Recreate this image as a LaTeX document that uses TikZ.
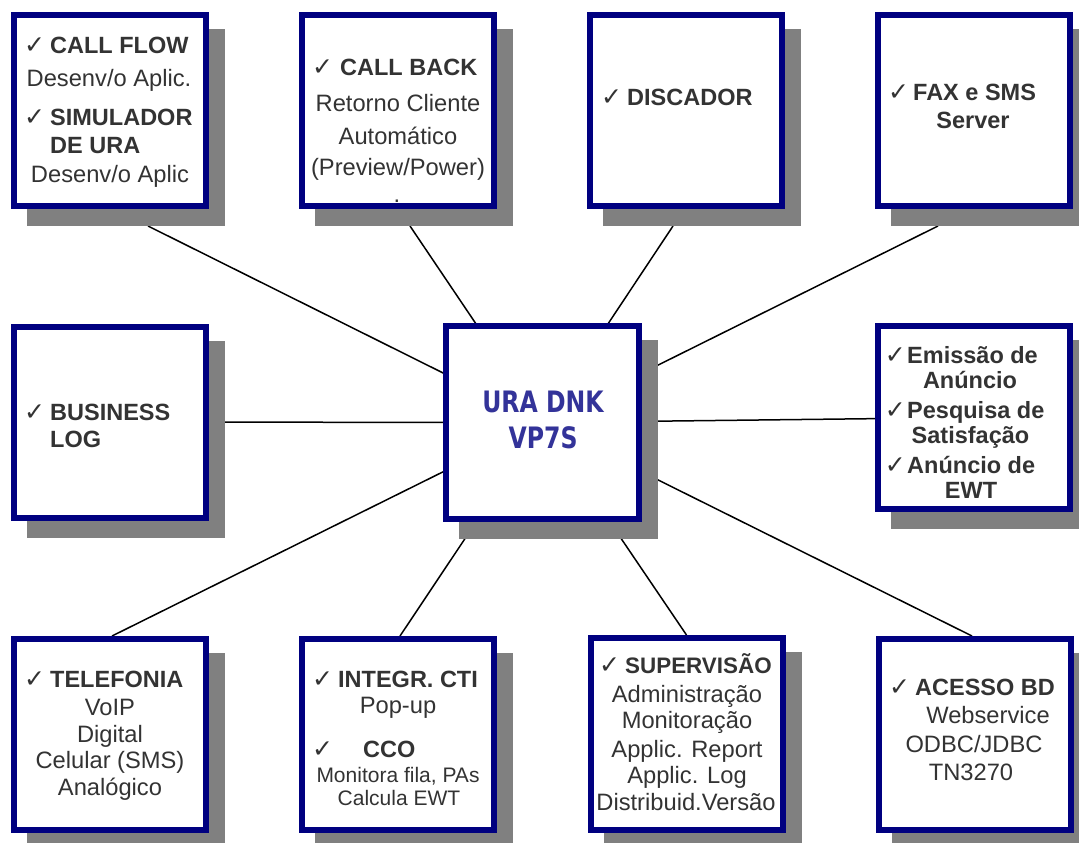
\documentclass[tikz,border=0pt]{standalone}
\usepackage{fontspec}
\setmainfont{Liberation Sans}
\newfontfamily\symf{DejaVu Sans}
\newfontfamily\urafont[FakeStretch=0.8]{DejaVu Sans}
\usetikzlibrary{backgrounds}
\definecolor{navy}{HTML}{000080}
\definecolor{shade}{HTML}{808080}
\definecolor{tgray}{HTML}{333333}
\definecolor{urablue}{HTML}{333399}
\tikzset{
  box/.style={draw=navy, line width=6pt, fill=white, minimum width=192pt, minimum height=191pt, inner sep=0pt, outer sep=3pt},
  txt/.style={inner sep=0pt, text=tgray, font=\fontsize{23.7}{28}\selectfont, anchor=base},
  btxt/.style={inner sep=0pt, text=tgray, font=\fontsize{23.5}{28}\selectfont\bfseries, anchor=base west},
  bctxt/.style={inner sep=0pt, text=tgray, font=\fontsize{23.5}{28}\selectfont\bfseries, anchor=base},
  stxt/.style={inner sep=0pt, text=tgray, font=\fontsize{21}{25}\selectfont, anchor=base},
  ck/.style={inner sep=0pt, text=tgray, font=\symf\fontsize{25}{25}\selectfont, anchor=base west},
  cke/.style={ck, anchor=base east},
  conn/.style={line width=1.5pt, black},
  shadowfill/.style={fill=shade}
}
\begin{document}
\begin{tikzpicture}[x=1pt,y=-1pt]
\useasboundingbox (0,0) rectangle (1079,843);

% boxes
\node[box] (callflow) at (110,110.5) {};
\node[box] (callback) at (398,110.5) {};
\node[box] (discador) at (686,110.5) {};
\node[box] (fax) at (974,110.5) {};
\node[box] (business) at (110,422) {};
\node[box, minimum width=193pt, minimum height=193pt] (ura) at (542.5,422.5) {};
\node[box, minimum height=183pt] (emissao) at (974,417.5) {};
\node[box] (telefonia) at (110,734.5) {};
\node[box] (integr) at (398,734.5) {};
\node[box, minimum height=192pt] (supervisao) at (686.5,734) {};
\node[box] (acesso) at (974.5,734.5) {};

\begin{scope}[on background layer]
  % connectors
  \draw[conn] (ura.center) -- ([shift={(38,17)}]callflow.south);
  \draw[conn] (ura.center) -- ([shift={(12,17)}]callback.south);
  \draw[conn] (ura.center) -- ([shift={(-13,17)}]discador.south);
  \draw[conn] (ura.center) -- ([shift={(-36,17)}]fax.south);
  \draw[conn] (ura.center) -- (business.center);
  \draw[conn] (ura.center) -- (emissao.center);
  \draw[conn] (ura.center) -- ([shift={(2,0)}]telefonia.north);
  \draw[conn] (ura.center) -- ([shift={(2,0)}]integr.north);
  \draw[conn] (ura.center) -- ([shift={(0,0)}]supervisao.north);
  \draw[conn] (ura.center) -- ([shift={(-2.5,0)}]acesso.north);
  % shadows
  \foreach \b in {callflow,callback,discador,fax,business,ura,emissao,telefonia,integr,supervisao,acesso}{
    \fill[shadowfill] ([shift={(16,17)}]\b.north west) rectangle ([shift={(16,17)}]\b.south east);
  }
\end{scope}

% CALL FLOW
\node[ck] (cf0) at (24,54) {✓};
\node[btxt] (cf1) at (50,54) {CALL FLOW};
\node[txt] (cf2) at (109,87) {Desenv/o Aplic.};
\node[ck] (cf3) at (24,125) {✓};
\node[btxt] (cf4) at (50,125) {SIMULADOR};
\node[btxt] (cf5) at (50,153) {DE URA};
\node[txt] (cf6) at (110,182) {Desenv/o Aplic};

% CALL BACK
\node[ck] (cb0) at (312,76) {✓};
\node[btxt] (cb1) at (340,76) {CALL BACK};
\node[txt] (cb2) at (398,111) {Retorno Cliente};
\node[txt] (cb3) at (398,144) {Automático};
\node[txt] (cb4) at (398,175) {(Preview/Power)};
\node[txt] (cb5) at (397,202) {.};

% DISCADOR
\node[ck] (di0) at (601,105) {✓};
\node[btxt] (di1) at (627,105) {DISCADOR};

% FAX
\node[ck] (fx0) at (888,100) {✓};
\node[btxt] (fx1) at (913,100) {FAX e SMS};
\node[bctxt] (fx2) at (973,128) {Server};

% BUSINESS LOG
\node[ck] (bl0) at (24,420) {✓};
\node[btxt] (bl1) at (50,420) {BUSINESS};
\node[btxt] (bl2) at (50,447) {LOG};

% URA
\node[inner sep=0pt, anchor=base, text=urablue, font=\urafont\bfseries\fontsize{29.5}{30}\selectfont] (u1) at (543,412) {URA DNK};
\node[inner sep=0pt, anchor=base, text=urablue, font=\urafont\bfseries\fontsize{29.5}{30}\selectfont] (u2) at (543,448) {VP7S};

% EMISSAO
\node[cke] (em0) at (906,363) {✓};
\node[btxt] (em1) at (907,363) {Emissão de};
\node[bctxt] (em2) at (970,388) {Anúncio};
\node[cke] (em3) at (906,418) {✓};
\node[btxt] (em4) at (907,418) {Pesquisa de};
\node[bctxt] (em5) at (970.5,443) {Satisfação};
\node[cke] (em6) at (906,473) {✓};
\node[btxt] (em7) at (907,473) {Anúncio de};
\node[bctxt] (em8) at (971,498) {EWT};

% TELEFONIA
\node[ck] (te0) at (24,687) {✓};
\node[btxt] (te1) at (50,687) {TELEFONIA};
\node[txt] (te2) at (110,715) {VoIP};
\node[txt] (te3) at (110,742) {Digital};
\node[txt] (te4) at (110,768) {Celular (SMS)};
\node[txt] (te5) at (110,795) {Analógico};

% INTEGR CTI
\node[ck] (in0) at (312,687) {✓};
\node[btxt] (in1) at (338,687) {INTEGR. CTI};
\node[txt] (in2) at (398,713) {Pop-up};
\node[ck] (in3) at (312,757) {✓};
\node[btxt] (in4) at (363,757) {CCO};
\node[stxt] (in5) at (398,782) {Monitora fila, PAs};
\node[stxt] (in6) at (399,805) {Calcula EWT};

% SUPERVISAO
\node[ck] (su0) at (599,673) {✓};
\node[btxt, font=\fontsize{22.4}{28}\selectfont\bfseries] (su1) at (625,673) {SUPERVISÃO};
\node[txt] (su2) at (687,702) {Administração};
\node[txt] (su3) at (687,728) {Monitoração};
\node[txt] (su4) at (687,757) {Applic. Report};
\node[txt] (su5) at (687,783) {Applic. Log};
\node[txt] (su6) at (686,810) {Distribuid.Versão};

% ACESSO BD
\node[ck] (ac0) at (889,695) {✓};
\node[btxt] (ac1) at (915,695) {ACESSO BD};
\node[txt] (ac2) at (988,723) {Webservice};
\node[txt] (ac3) at (974,752) {ODBC/JDBC};
\node[txt] (ac4) at (971,780) {TN3270};
\end{tikzpicture}
\end{document}
